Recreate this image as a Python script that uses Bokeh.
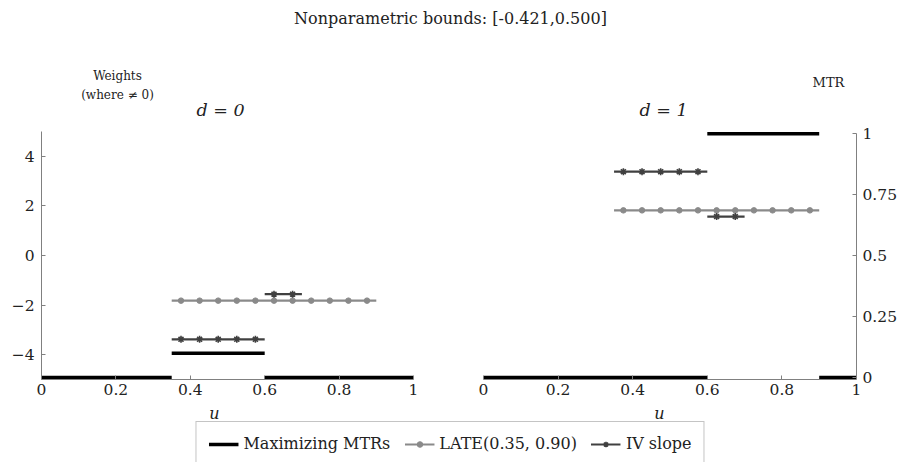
from bokeh.plotting import figure
from bokeh.models import (Range1d, LinearAxis, Label, Legend, LegendItem,
                          FixedTicker, CustomJSTickFormatter)
from bokeh.layouts import column, row
from bokeh.embed import file_html
from bokeh.resources import INLINE

# ---------------- data ----------------
u_ticks = [0, 0.2, 0.4, 0.6, 0.8, 1]
weight_ticks = [-4, -2, 0, 2, 4]
mtr_ticks = [0, 0.25, 0.5, 0.75, 1]

# d = 0 panel
mtr_d0_from = [0.0, 0.35, 0.6]
mtr_d0_to = [0.35, 0.6, 1.0]
mtr_d0 = [0.0, 0.1, 0.0]
late_d0_from = [0.35]
late_d0_to = [0.9]
late_d0 = [-1.82]
iv_d0_from = [0.35, 0.6]
iv_d0_to = [0.6, 0.7]
iv_d0 = [-3.38, -1.56]

# d = 1 panel
mtr_d1_from = [0.0, 0.6, 0.9]
mtr_d1_to = [0.6, 0.9, 1.0]
mtr_d1 = [0.0, 1.0, 0.0]
late_d1_from = [0.35]
late_d1_to = [0.9]
late_d1 = [1.82]
iv_d1_from = [0.35, 0.6]
iv_d1_to = [0.6, 0.7]
iv_d1 = [3.38, 1.57]

# marker positions
late_mark_u = [0.375, 0.425, 0.475, 0.525, 0.575, 0.625, 0.675, 0.725, 0.775, 0.825, 0.875]
late_mark_d0 = [-1.82, -1.82, -1.82, -1.82, -1.82, -1.82, -1.82, -1.82, -1.82, -1.82, -1.82]
late_mark_d1 = [1.82, 1.82, 1.82, 1.82, 1.82, 1.82, 1.82, 1.82, 1.82, 1.82, 1.82]
iv_mark_u = [0.375, 0.425, 0.475, 0.525, 0.575, 0.625, 0.675]
iv_mark_d0 = [-3.38, -3.38, -3.38, -3.38, -3.38, -1.56, -1.56]
iv_mark_d1 = [3.38, 3.38, 3.38, 3.38, 3.38, 1.57, 1.57]

series_names = ["Maximizing MTRs", "LATE(0.35, 0.90)", "IV slope"]

# ---------------- style ----------------
FONT = "DejaVu Serif"
MAIN = "15.5px"
TXT = "#222222"
AXIS_COL = "#808080"
MTR_COL = "#000000"
LATE_COL = "#8a8a8a"
IV_COL = "#404040"
TICK_FMT = "return String(tick).replace('-', '\u2212');"

W = 900
TOP_H, ROW_H = 120, 282
LEG_H = 462 - TOP_H - ROW_H


def style_axis(ax, ticks):
    ax.ticker = FixedTicker(ticks=ticks)
    ax.formatter = CustomJSTickFormatter(code=TICK_FMT)
    ax.axis_line_color = AXIS_COL
    ax.major_tick_line_color = AXIS_COL
    ax.major_tick_in = 4
    ax.major_tick_out = 0
    ax.minor_tick_line_color = None
    ax.major_label_text_font = FONT
    ax.major_label_text_font_size = MAIN
    ax.major_label_text_color = TXT


def make_panel(width, bl, br, left_axis, right_axis,
               mtr_from, mtr_to, mtr_vals, late_from, late_to, late_vals,
               iv_from, iv_to, iv_vals, late_mw, iv_mw):
    p = figure(width=width, height=ROW_H, output_backend="svg", toolbar_location=None,
               x_range=Range1d(0, 1), y_range=Range1d(-5, 5),
               x_axis_location=None, y_axis_location=None,
               min_border_left=bl, min_border_right=br,
               min_border_top=11, min_border_bottom=ROW_H - 11 - 248)
    p.extra_y_ranges = {"mtr": Range1d(-0.0082, 1.0094)}
    p.outline_line_color = None
    p.xgrid.visible = False
    p.ygrid.visible = False

    xa = LinearAxis()
    style_axis(xa, u_ticks)
    xa.major_label_standoff = 4
    p.add_layout(xa, "below")
    if left_axis:
        ya = LinearAxis()
        style_axis(ya, weight_ticks)
        ya.major_label_standoff = 7
        p.add_layout(ya, "left")
    if right_axis:
        ra = LinearAxis(y_range_name="mtr", bounds=(0, 1))
        style_axis(ra, mtr_ticks)
        ra.major_label_standoff = 6
        p.add_layout(ra, "right")

    p.segment(x0=mtr_from, x1=mtr_to, y0=mtr_vals, y1=mtr_vals, y_range_name="mtr",
              line_color=MTR_COL, line_width=3.5)
    p.segment(x0=late_from, x1=late_to, y0=late_vals, y1=late_vals,
              line_color=LATE_COL, line_width=2.2)
    p.scatter(x=late_mark_u, y=late_mw, marker="circle", size=5.5,
              fill_color=LATE_COL, line_color=LATE_COL)
    p.segment(x0=iv_from, x1=iv_to, y0=iv_vals, y1=iv_vals,
              line_color=IV_COL, line_width=2.2)
    p.scatter(x=iv_mark_u, y=iv_mw, marker="asterisk", size=7,
              line_color=IV_COL, line_width=1.6)
    return p


p0 = make_panel(448, 41, 35, True, False,
                mtr_d0_from, mtr_d0_to, mtr_d0, late_d0_from, late_d0_to, late_d0,
                iv_d0_from, iv_d0_to, iv_d0, late_mark_d0, iv_mark_d0)
p1 = make_panel(452, 35, 44, False, True,
                mtr_d1_from, mtr_d1_to, mtr_d1, late_d1_from, late_d1_to, late_d1,
                iv_d1_from, iv_d1_to, iv_d1, late_mark_d1, iv_mark_d1)

# ---------------- top texts ----------------
top = figure(width=W, height=TOP_H, output_backend="svg", toolbar_location=None,
             x_range=Range1d(0, W), y_range=Range1d(0, TOP_H),
             x_axis_location=None, y_axis_location=None, min_border=0)
top.outline_line_color = None
top.xgrid.visible = False
top.ygrid.visible = False


def add_text(fig, fig_h, fig_top, x, y_screen, text, size, style="normal"):
    fig.add_layout(Label(x=x, y=fig_h - (y_screen - fig_top), text=text, text_font=FONT,
                         text_font_size=size, text_font_style=style, text_color=TXT,
                         text_align="center", text_baseline="middle"))


add_text(top, TOP_H, 0, 450, 18, "Nonparametric bounds: [-0.421,0.500]", "16px")
add_text(top, TOP_H, 0, 117, 75, "Weights", "12px")
add_text(top, TOP_H, 0, 117, 94, "(where \u2260 0)", "12px")
add_text(top, TOP_H, 0, 828, 82, "MTR", "13px")
add_text(top, TOP_H, 0, 220, 109, "d = 0", "17.5px", "italic")
add_text(top, TOP_H, 0, 663, 109, "d = 1", "17.5px", "italic")

# ---------------- legend + u labels ----------------
leg = figure(width=W, height=LEG_H, output_backend="svg", toolbar_location=None,
             x_range=Range1d(0, W), y_range=Range1d(0, LEG_H),
             x_axis_location=None, y_axis_location=None, min_border=0)
leg.outline_line_color = None
leg.xgrid.visible = False
leg.ygrid.visible = False
LEG_TOP = TOP_H + ROW_H
add_text(leg, LEG_H, LEG_TOP, 214, 413, "u", "16px", "italic")
add_text(leg, LEG_H, LEG_TOP, 659, 413, "u", "16px", "italic")

# legend-key renderers (hidden; only their legend glyphs are shown)
r_mtr = leg.segment(x0=mtr_d0_from, x1=mtr_d0_to, y0=mtr_d0, y1=mtr_d0,
                    line_color=MTR_COL, line_width=3.5, visible=False)
r_late = leg.segment(x0=late_d0_from, x1=late_d0_to, y0=late_d0, y1=late_d0,
                     line_color=LATE_COL, line_width=2.2, visible=False)
r_late_m = leg.scatter(x=late_mark_u, y=late_mark_d0, marker="circle",
                       fill_color=LATE_COL, line_color=LATE_COL, visible=False)
r_iv = leg.segment(x0=iv_d0_from, x1=iv_d0_to, y0=iv_d0, y1=iv_d0,
                   line_color=IV_COL, line_width=2.2, visible=False)
r_iv_m = leg.scatter(x=iv_mark_u, y=iv_mark_d0, marker="asterisk",
                     line_color=IV_COL, line_width=1.5, visible=False)

legend = Legend(items=[
    LegendItem(label=series_names[0], renderers=[r_mtr]),
    LegendItem(label=series_names[1], renderers=[r_late, r_late_m]),
    LegendItem(label=series_names[2], renderers=[r_iv, r_iv_m]),
], location="top_center", orientation="horizontal", margin=421 - LEG_TOP, padding=12,
    spacing=14, label_standoff=5, glyph_width=30, glyph_height=14,
    label_text_font=FONT, label_text_font_size="16px", label_text_color=TXT,
    border_line_color="#8a8a8a", border_line_width=1, background_fill_alpha=1.0)
leg.add_layout(legend, "center")

layout = column(top, row(p0, p1), leg)

with open("out.html", "w") as f:
    f.write(file_html(layout, INLINE))
